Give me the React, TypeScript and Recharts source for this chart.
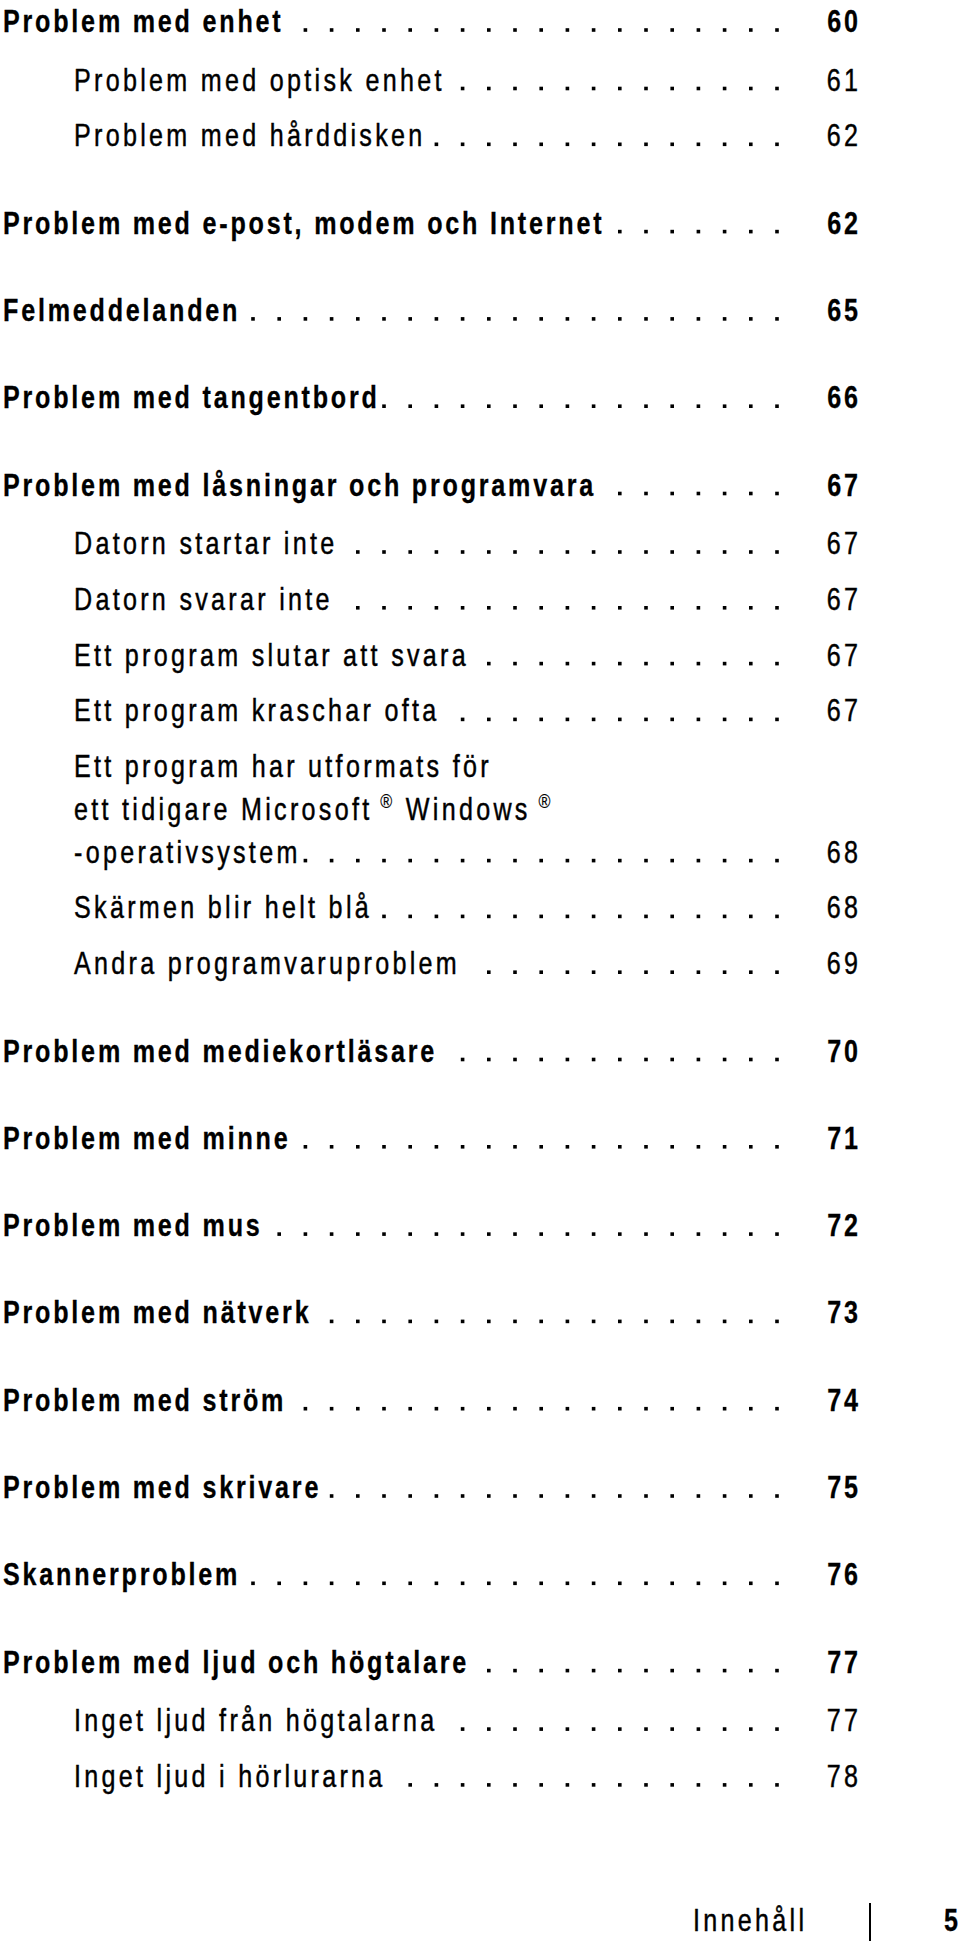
import React from 'react';
import { ScatterChart, Scatter, XAxis, YAxis } from 'recharts';

// innehållsförteckning, s. 5
const titles = [
  'Problem med enhet',
  'Problem med optisk enhet',
  'Problem med hårddisken',
  'Problem med e-post, modem och Internet',
  'Felmeddelanden',
  'Problem med tangentbord',
  'Problem med låsningar och programvara',
  'Datorn startar inte',
  'Datorn svarar inte',
  'Ett program slutar att svara',
  'Ett program kraschar ofta',
  'Ett program har utformats för\nett tidigare Microsoft® Windows®\n-operativsystem',
  'Skärmen blir helt blå',
  'Andra programvaruproblem',
  'Problem med mediekortläsare',
  'Problem med minne',
  'Problem med mus',
  'Problem med nätverk',
  'Problem med ström',
  'Problem med skrivare',
  'Skannerproblem',
  'Problem med ljud och högtalare',
  'Inget ljud från högtalarna',
  'Inget ljud i hörlurarna',
];
const pages = [60, 61, 62, 62, 65, 66, 67, 67, 67, 67, 67, 68, 68, 69, 70, 71, 72, 73, 74, 75, 76, 77, 77, 78];
// 0 = rubrik (fet), 1 = underrubrik
const levels = [0, 1, 1, 0, 0, 0, 0, 1, 1, 1, 1, 1, 1, 1, 0, 0, 0, 0, 0, 0, 0, 0, 1, 1];

const footerLabel = 'Innehåll';
const footerPage = 5;

const W = 960;
const H = 1943;
const FONT = "'Liberation Sans', Arial, sans-serif";
const FS = 31;
const SX = 0.81; // smal stil: glyferna trycks ihop i x-led
const LS_REG = 3.3;
const LS_BOLD = 2.8;
const FIRST_BASE = 32;
const GAP_MAIN = 87.3;
const GAP_SUB_FIRST = 58.5;
const GAP_SUB = 55.8;
const WRAP = 42.7;
const INDENT_MAIN = 3;
const INDENT_SUB = 74;
const DOT_LAST = 777;
const DOT_STEP = 26.2;
const PAGE_RIGHT = 858;

// radernas baslinjer räknas fram ur nivåerna
const rows = (() => {
  let y = FIRST_BASE;
  return titles.map((title, i) => {
    if (i > 0) {
      const prevLines = titles[i - 1].split('\n').length - 1;
      y += prevLines * WRAP;
      y += levels[i] === 0 ? GAP_MAIN : levels[i - 1] === 0 ? GAP_SUB_FIRST : GAP_SUB;
    }
    return { x: 0, y, title, page: pages[i], level: levels[i] };
  });
})();

const footer = [{ x: 0, y: H - 10, label: footerLabel, page: footerPage }];

let ctx: CanvasRenderingContext2D | null = null;
const measure = (s: string, bold: boolean) => {
  if (!ctx) ctx = document.createElement('canvas').getContext('2d');
  const ls = bold ? LS_BOLD : LS_REG;
  if (!ctx) return s.length * (FS * 0.45 + ls);
  ctx.font = `${bold ? 'bold ' : ''}${FS}px ${FONT}`;
  return ctx.measureText(s).width * SX + s.length * ls;
};

type TxtProps = {
  x: number;
  y: number;
  bold: boolean;
  anchor?: 'start' | 'end';
  children: React.ReactNode;
};

const Txt = ({ x, y, bold, anchor = 'start', children }: TxtProps) => {
  const ls = bold ? LS_BOLD : LS_REG;
  return (
    <text
      transform={`translate(${anchor === 'end' ? x + ls : x},${y}) scale(${SX},1)`}
      x={0}
      y={0}
      textAnchor={anchor}
      fontFamily={FONT}
      fontSize={FS}
      fontWeight={bold ? 'bold' : 'normal'}
      fill="#000"
      stroke="#000"
      strokeWidth={bold ? 0.3 : 0.45}
      style={{ letterSpacing: ls / SX }}
    >
      {children}
    </text>
  );
};

const Line = ({ text, x, y, bold }: { text: string; x: number; y: number; bold: boolean }) => {
  const parts = text.split('®');
  return (
    <Txt x={x} y={y} bold={bold}>
      {parts.map((p, i) => (
        <React.Fragment key={i}>
          <tspan dy={i > 0 ? 12 : 0}>{p}</tspan>
          {i < parts.length - 1 && (
            <tspan dy={-12} fontSize={20} strokeWidth={0.2}>
              {' ®'}
            </tspan>
          )}
        </React.Fragment>
      ))}
    </Txt>
  );
};

const TocRow = (props: any) => {
  const { cx, cy, payload } = props;
  const bold = payload.level === 0;
  const lines: string[] = payload.title.split('\n');
  const x0 = cx + (bold ? INDENT_MAIN : INDENT_SUB);
  const lastY = cy + (lines.length - 1) * WRAP;
  const textEnd = x0 + measure(lines[lines.length - 1], bold);
  const dots: number[] = [];
  for (let dx = DOT_LAST; dx - 2 > textEnd + 2; dx -= DOT_STEP) dots.push(dx);
  return (
    <g>
      {lines.map((l, i) => (
        <Line key={i} text={l} x={x0} y={cy + i * WRAP} bold={bold} />
      ))}
      {dots.map((d) => (
        <rect key={d} x={d - 1.8} y={lastY - 3.8} width={3.6} height={3.6} fill="#000" />
      ))}
      <Txt x={PAGE_RIGHT} y={lastY} bold={bold} anchor="end">
        {payload.page}
      </Txt>
    </g>
  );
};

const Footer = (props: any) => {
  const { cy, payload } = props;
  return (
    <g>
      <Txt x={693} y={cy - 2} bold={false}>
        {payload.label}
      </Txt>
      <line x1={870} x2={870} y1={cy - 30} y2={H - 2} stroke="#000" strokeWidth={2} />
      <Txt x={958} y={cy - 2} bold anchor="end">
        {payload.page}
      </Txt>
    </g>
  );
};

export default function App() {
  return (
    <div style={{ position: 'absolute', left: 0, top: 0, background: '#fff' }}>
      <ScatterChart width={W} height={H} margin={{ top: 0, right: 0, bottom: 0, left: 0 }}>
        <XAxis type="number" dataKey="x" domain={[0, W]} hide />
        <YAxis type="number" dataKey="y" domain={[0, H]} reversed hide />
        <Scatter data={rows} shape={TocRow} isAnimationActive={false} />
        <Scatter data={footer} shape={Footer} isAnimationActive={false} />
      </ScatterChart>
    </div>
  );
}
